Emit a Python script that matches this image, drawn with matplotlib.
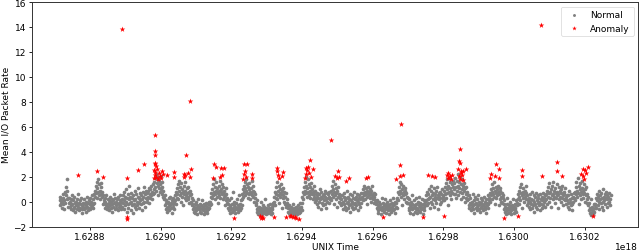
import numpy as np
import matplotlib
matplotlib.use("Agg")
import matplotlib.pyplot as plt

# ---------------- data ----------------
# Time axis: UNIX time in ns; segment edges (units of 1e18 ns)
segment_edges = [1.628714, 1.62874, 1.62881, 1.62884, 1.62889, 1.62896, 1.62898,
                 1.62901, 1.62904, 1.62909, 1.62914, 1.62919, 1.62923, 1.62927,
                 1.62932, 1.62936, 1.62940, 1.62944, 1.62948, 1.62951, 1.62957,
                 1.62961, 1.62967, 1.62970, 1.62975, 1.62980, 1.62983, 1.62987,
                 1.62993, 1.62997, 1.63001, 1.63004, 1.63009, 1.63015, 1.63017,
                 1.63021, 1.63023, 1.630274]

seg01 = [0.1, -0.3, 0.4, -0.1, 0.2, -0.5, 0.0, 0.6, -0.2, 0.3, -0.6, 0.1, 0.8, -0.1, 0.5, 1.2, 1.8, 0.9, 0.2, -0.4, 0.3]
seg02 = [-0.1, 0.3, -0.4, 0.0, -0.6, 0.2, -0.3, 0.5, -0.2, -0.7, 0.1, -0.4, 0.4, -0.5, -0.1, -0.8,
         0.0, -0.3, 0.2, -0.6, -0.2, 0.6, -0.4, -0.1, -0.7, 0.1, -0.5, -0.2, 0.3, -0.6, -0.3, -0.9,
         -0.1, -0.4, 0.2, -0.6, -0.2, -0.5, 0.0, -0.8, -0.3, 0.4, -0.4, -0.1, -0.7, 0.1, -0.5, -0.2,
         0.3, -0.6, -0.3, 0.0, -0.4, 0.5, -0.2, -0.5]
seg03 = [0.2, 0.6, -0.1, 0.9, 0.4, 1.3, 0.7, 1.6, 0.3, 1.1, 0.8, 1.8, 0.5, 1.4, 0.9, 0.2, 1.2, 0.6, 1.5, 0.4, 0.8, -0.2, 0.5, 0.1]
seg04 = [-0.1, 0.3, -0.5, 0.0, -0.3, 0.5, -0.6, -0.2, 0.2, -0.4, 0.1, -0.7, -0.1, 0.4, -0.3, 0.0,
         -0.5, 0.2, -0.2, -0.8, 0.1, -0.4, 0.6, -0.1, -0.6, 0.3, -0.3, 0.0, -0.5, 0.2,
         -0.2, -0.7, 0.4, -0.1, -0.4, 0.1, -0.3, 0.5, -0.6, 0.0]
seg05 = [0.2, -0.4, 0.5, -0.1, 0.8, -0.6, 0.1, 0.4, -0.3, 1.0, 0.0, -0.8, 0.3, -0.2, 0.6, -0.5,
         0.2, 1.3, -0.1, 0.4, -0.7, 0.0, 0.7, -0.3, 0.3, -0.9, 0.5, -0.2, 0.1, 0.9, -0.4, 0.2,
         -0.6, 0.6, 0.0, -0.3, 0.4, 1.1, -0.1, 0.3, -0.5, 0.7, 0.1, -0.2, 0.5, -0.7, 0.2, 0.8,
         -0.1, 0.4, 1.2, 0.0, 0.6, -0.4, 0.3, 0.9]
seg06 = [0.2, 0.7, 0.0, 0.9, 0.4, 1.1, -0.1, 0.6, 0.3, 1.0, 0.5, 1.3, 0.2, 0.8, 1.4, 0.6]
seg07 = [1.0, 1.6, 0.7, 1.9, 1.2, 2.2, 0.9, 1.5, 1.8, 0.5, 1.3, 2.0, 1.1, 1.7, 0.8, 1.4, 2.1, 1.0, 1.6, 0.6, 1.2, 0.9, 0.4, 0.3]
seg08 = [0.2, -0.3, 0.5, -0.6, -0.1, 0.1, -0.5, -0.8, 0.0, -0.4, 0.3, -0.2, -0.7, -0.3, 0.4, -0.5, -0.1, -0.9, 0.1, -0.4, -0.2, 0.3, -0.6, 0.0]
seg09 = [0.1, 0.5, -0.2, 0.8, 0.3, 1.1, 0.6, 1.4, 0.2, 0.9, 1.7, 0.5, 1.2, 0.0, 0.7, 1.5,
         0.4, 1.0, 0.8, -0.3, 0.6, 1.3, 0.3, 0.9, 1.6, 0.5, 0.1, 1.1, 0.7, 0.4,
         1.2, 0.2, 0.8, -0.1, 0.5, 0.9, 0.0, 0.6, 0.3, -0.2]
seg10 = [-0.3, -0.6, 0.1, -0.8, -0.4, -0.2, -0.9, -0.5, 0.0, -0.7, -0.3, -1.0, -0.5, 0.2, -0.6, -0.4,
         -0.8, -0.2, -0.6, -0.9, -0.3, -0.5, 0.1, -0.7, -0.4, -1.0, -0.2, -0.6, -0.8, -0.3,
         -0.5, -0.1, -0.7, -0.4, -0.9, -0.2, -0.6, 0.0, -0.5, -0.3]
seg11 = [0.0, 0.4, -0.2, 0.7, 0.3, 1.0, 0.5, 1.4, 0.8, 1.8, 0.6, 1.2, 0.2, 0.9, 1.6, 0.4,
         1.1, 0.7, -0.1, 1.3, 0.5, 0.9, 1.7, 0.3, 0.8, 1.0, 0.6, 1.4, 0.2, 0.7,
         1.2, 0.4, 0.9, -0.3, 0.5, 1.1, 0.1, 0.6, -0.1, 0.3]
seg12 = [-0.2, -0.5, 0.1, -0.7, -0.3, -0.9, -0.4, 0.3, -0.6, -0.2, -0.8, -0.5, 0.8, -0.3, -0.7, 0.0,
         -0.4, -0.9, -0.6, -0.1, -0.5, 0.2, -0.8, -0.3, -0.6, -0.4, 0.5, -0.7, -0.2, -0.5, 0.1, -0.3]
seg13 = [0.2, 0.6, 1.0, 0.4, 1.3, 0.8, 1.6, 0.5, 1.1, 0.9, 1.8, 0.7, 1.4, 0.3, 1.2, 1.0,
         0.6, 1.5, 0.8, 0.2, 1.1, 0.7, 1.7, 0.5, 0.9, 1.3, 0.4, 0.8, 0.0, 0.6, 0.3, -0.1]
seg14 = [-0.3, -0.6, 0.1, -0.8, -0.5, -1.0, -0.7, -0.4, -0.9, -0.6, 0.0, -0.8, -0.5, -0.7, -1.0, -0.3,
         -0.6, -0.9, -0.4, -0.8, 0.2, -0.7, -0.5, -1.0, -0.6, -0.8, -0.3, -0.9, -0.7, -0.5,
         -0.8, -0.2, -0.6, -1.0, -0.7, -0.4, -0.9, -0.6, -0.3, -0.1]
seg15 = [0.0, 0.4, -0.3, 0.8, 0.3, 1.2, 0.6, 1.6, 0.2, 0.9, 0.5, 1.3, -0.1, 0.7, 1.0, 0.4,
         1.4, 0.6, -0.5, 0.9, 0.3, 1.1, 0.5, 0.0, 0.8, -0.2, 0.4, 0.7, -0.4, 0.2, -0.1, -0.3]
seg16 = [-0.5, -0.8, -0.3, -0.9, -0.6, -1.0, -0.7, -0.4, -0.8, -0.6, -0.9, -0.2, -0.7, -1.0, -0.5, -0.8,
         -0.6, -0.9, -0.4, -0.7, -1.0, -0.6, -0.8, -0.3, -0.7, -0.9, -0.5, -0.8, -0.1, -0.6, -0.4, -0.7]
seg17 = [-0.1, 0.4, 0.8, 0.2, 1.2, 0.6, 1.6, 0.9, 2.0, 0.7, 1.3, 0.4, 1.1, 1.8, 0.8, 0.5,
         1.4, 0.9, 0.3, 1.2, 0.7, 1.5, 0.6, 1.0, 0.2, 0.8, 1.3, 0.4, 0.6, 0.0, 0.9, 0.3]
seg18 = [0.1, 0.5, -0.2, 0.7, 0.3, -0.4, 0.6, 0.0, 1.0, 0.2, -0.6, 0.4, 0.8, -0.1, 0.3, 0.5,
         -0.3, 0.6, 0.1, 0.9, -0.2, 0.4, 0.2, -0.5, 0.7, 0.0, 0.3, 0.6, -0.1, 0.4, 0.8, 0.2]
seg19 = [0.3, 0.9, 0.1, 1.3, 0.6, 1.7, 0.4, 1.0, -0.2, 0.8, 1.4, 0.5, 0.2, 1.1, 0.7, -0.4, 0.9, 0.4, 1.2, 0.0, 0.6, 0.3, -0.1, 0.5]
seg20 = [0.2, -0.3, 0.5, -0.1, 0.0, -0.6, 0.4, -0.2, 0.7, -0.4, 0.1, -0.7, 0.3, -0.1, 0.9, -0.5,
         0.0, 0.4, -0.3, 0.2, -0.8, 0.6, -0.2, 0.1, -0.4, 0.5, 0.0, -0.6, 0.3, -0.2, 0.8, -0.1,
         0.2, -0.5, 0.4, -0.3, 0.1, 0.6, -0.7, 0.0, 0.3, -0.2, 0.5, -0.4, 0.2, 0.7, -0.1, 0.4]
seg21 = [0.3, 0.7, 0.1, 1.0, 0.5, 1.3, 0.8, 0.2, 0.6, 1.1, 0.4, 0.9, -0.2, 0.7, 1.2, 0.5,
         0.8, 0.3, 1.0, 0.6, 0.0, 0.9, 0.4, 1.3, 0.5, 0.2, 0.7, -0.1, 0.4, 0.1, 0.6, 0.0]
seg22 = [-0.2, -0.5, 0.1, -0.7, -0.3, -0.9, -0.4, 0.0, -0.6, -0.2, -1.0, -0.5, 0.3, -0.4, -0.7, -0.1,
         -0.5, -0.8, -0.3, 0.2, -0.6, -0.4, -0.9, -0.2, -0.5, 0.0, -0.7, -0.3, -1.0, -0.4, 0.1, -0.6,
         -0.2, -0.8, -0.5, -0.1, -0.4, -0.7, 0.3, -0.3, -0.6, -0.2, -0.9, 0.0, -0.4, -0.1, -0.5, 0.2]
seg23 = [0.3, 0.8, 0.1, 1.2, 0.6, 1.6, 0.9, 0.4, 1.4, 0.7, -0.3, 1.0, 0.5, 1.3, 0.8, 0.2, 1.1, 0.6, 0.9, 0.0, 0.7, 0.4, -0.1, 0.3]
seg24 = [-0.1, -0.5, 0.2, -0.7, -0.3, -0.9, 0.0, -0.4, 0.5, -0.6, -0.2, -1.0, -0.5, 0.1, -0.3, -0.8,
         -0.4, 0.3, -0.6, -0.2, -0.9, -0.5, 0.0, -0.7, -0.3, 0.4, -0.4, -0.8, -0.1, -0.6,
         -0.3, 0.2, -0.5, -1.0, -0.2, -0.4, 0.1, -0.7, -0.3, 0.0]
seg25 = [0.1, 0.5, -0.3, 0.8, 0.2, -0.1, 0.6, 1.0, 0.3, -0.5, 0.4, 0.9, 0.0, 1.3, 0.5, -0.2,
         0.7, 0.2, 1.1, -0.4, 0.4, 0.6, 0.1, 0.9, -0.1, 0.3, 1.2, 0.5, -0.6, 0.7,
         0.2, 0.4, 0.8, -0.2, 0.6, 0.0, 1.0, 0.3, 0.5, 0.1]
seg26 = [0.4, 0.9, 0.1, 1.2, 0.6, 1.5, 0.3, 1.0, 1.8, 0.7, -0.3, 1.3, 0.8, 1.9, 0.5, 1.1, 1.6, 0.9, 0.2, 1.4, 0.7, 1.2, 1.7, 0.6]
seg27 = [1.0, 1.5, 0.6, 1.9, 1.2, 0.3, 1.7, 0.9, 2.2, 1.3, 0.5, 1.6, 1.1, 0.8, 2.0, 1.4,
         0.2, 1.0, 1.8, 0.7, 1.3, 0.4, 1.5, 0.9, 1.1, 0.0, 0.6, 1.2, 0.3, 0.8, 0.1, 0.5]
seg28 = [0.2, -0.3, 0.5, -0.5, -0.1, 0.3, -0.7, -0.2, 0.0, -0.4, 0.6, -0.6, -0.3, 0.1, -0.9, -0.2,
         0.4, -0.5, -0.1, -0.7, 0.2, -0.4, -0.3, 0.5, -0.6, 0.0, -0.2, -0.8, 0.3, -0.4, -0.1, -0.5,
         0.1, -0.7, -0.3, 0.4, -0.2, -0.6, 0.0, -0.4, -0.9, 0.2, -0.3, -0.1, 0.5, -0.5, -0.2, 0.1]
seg29 = [0.3, 0.7, 0.0, 1.0, 0.5, 1.4, 0.8, 0.2, 1.1, 0.6, 1.6, 0.4, 0.9, -0.2, 1.2, 0.7,
         0.3, 1.0, 0.5, 1.3, 0.8, -0.3, 0.6, 0.9, 0.2, 1.1, 0.4, 0.0, 0.7, -0.1, 0.3, 0.5]
seg30 = [-0.2, -0.6, 0.1, -0.8, -0.4, -1.0, -0.5, -0.2, -0.7, 0.3, -0.5, -0.9, -0.3, -0.6, 0.0, -0.8,
         -0.4, -0.7, -1.0, -0.3, -0.5, 0.2, -0.6, -0.9, -0.4, -0.2, -0.7, -0.5, 0.1, -0.8, -0.3, -0.1]
seg31 = [0.2, 0.6, -0.2, 0.9, 0.4, 1.2, 0.1, 0.7, 1.4, 0.5, -0.5, 0.8, 0.3, 1.1, 0.6, 0.0, 0.9, 0.4, 1.3, 0.2, 0.7, -0.3, 0.5, 0.1]
seg32 = [-0.1, 0.3, -0.4, 0.6, 0.0, -0.6, 0.2, -0.2, 0.8, -0.5, 0.1, -0.3, 0.5, -0.8, 0.0, 0.4,
         -0.2, 0.7, -0.4, 0.1, -0.6, 0.3, -0.1, 0.5, -0.3, 0.0, 0.6, -0.7, 0.2, -0.2,
         0.4, -0.5, 0.1, 0.7, -0.3, 0.0, 0.3, -0.4, 0.5, 0.1]
seg33 = [0.2, 0.6, -0.2, 0.9, 0.4, 1.2, 0.0, 0.7, 1.5, 0.3, 0.8, -0.4, 1.0, 0.5, 1.3, 0.2,
         0.6, 1.6, 0.4, 0.9, -0.1, 1.1, 0.7, 0.3, 1.4, 0.5, 0.8, -0.5, 0.6, 1.2, 0.2, 0.9,
         0.4, 1.0, 0.0, 0.7, 0.3, 1.3, 0.5, -0.3, 0.8, 0.2, 0.6, 1.1, 0.1, 0.4, -0.2, 0.5]
seg34 = [0.1, -0.4, 0.5, -0.1, 0.9, -0.6, 0.2, 0.0, -0.3, 0.6, -0.7, 0.3, -0.2, 0.4, 0.0, 0.7]
seg35 = [0.3, 0.8, 0.1, 1.2, 0.6, 1.6, 0.9, 0.4, 1.9, 0.7, 1.3, -0.2, 1.0, 0.5, 1.5, 0.8,
         0.2, 1.1, 1.7, 0.6, 0.9, 0.3, 1.4, 0.7, 0.0, 1.0, 0.5, 1.2, 0.2, 0.6, -0.1, 0.4]
seg36 = [-0.3, -0.7, -0.1, -0.9, -0.5, -1.1, -0.6, 0.2, -0.8, -0.4, -1.0, -0.6, -0.2, -0.8, -0.5, -0.3]
seg37 = [-0.2, 0.3, -0.5, 0.1, 0.6, -0.3, 0.4, 0.0, 0.9, -0.6, 0.2, 0.5, -0.1, 0.7, -0.4, 0.3,
         1.0, 0.0, -0.7, 0.4, 0.1, 0.6, -0.2, 0.3, 0.8, -0.4, 0.2, 0.5, -0.1, 0.4, 0.0, 0.7, -0.3, 0.2, 0.5]

normal_segments = [seg01, seg02, seg03, seg04, seg05, seg06, seg07, seg08, seg09, seg10,
                   seg11, seg12, seg13, seg14, seg15, seg16, seg17, seg18, seg19, seg20,
                   seg21, seg22, seg23, seg24, seg25, seg26, seg27, seg28, seg29, seg30,
                   seg31, seg32, seg33, seg34, seg35, seg36, seg37]

# Anomalies: time (units of 1e18 ns) and rate
anomaly_time = [1.628765, 1.628821, 1.628837, 1.628890, 1.628904, 1.628904, 1.628906, 1.628935, 1.628952,
                1.628984, 1.628983, 1.628985, 1.628984, 1.6289835, 1.628980, 1.628985, 1.628990, 1.628994,
                1.628983, 1.628988, 1.628997, 1.629004, 1.629007, 1.628992, 1.628980, 1.629001, 1.628986,
                1.629018, 1.629039, 1.629039,
                1.629065, 1.629070, 1.629076, 1.629082, 1.629072, 1.629086, 1.629067, 1.629084,
                1.629151, 1.629157, 1.629149, 1.629170, 1.629178, 1.629173, 1.629168,
                1.629236, 1.629243, 1.629239, 1.629236, 1.629241, 1.629234, 1.629258, 1.629258,
                1.629208, 1.629281, 1.629285, 1.629288, 1.629290, 1.629320,
                1.629330, 1.629330, 1.629332, 1.629335, 1.629342, 1.629345,
                1.629354, 1.629365, 1.629370, 1.629375, 1.629379, 1.629384, 1.629392,
                1.629422, 1.629410, 1.629414, 1.629418, 1.629420, 1.629412, 1.629424, 1.629409, 1.629431,
                1.629482, 1.629493, 1.629499, 1.629504, 1.629501, 1.629525, 1.629532,
                1.629581, 1.629588, 1.629630,
                1.629680, 1.629676, 1.629667, 1.629678, 1.629685,
                1.629743, 1.629755, 1.629769, 1.629775, 1.629803,
                1.629809, 1.629814, 1.629818, 1.629821, 1.629812, 1.629824,
                1.629846, 1.629844, 1.629846, 1.629842, 1.629849, 1.629852, 1.629844, 1.629848, 1.629855,
                1.629850, 1.629863, 1.629854,
                1.629932, 1.629936, 1.629945, 1.629949, 1.629956, 1.629957,
                1.629972, 1.630010, 1.630023, 1.630023, 1.630076, 1.630078,
                1.630122, 1.630122, 1.630136,
                1.630189, 1.630194, 1.630201, 1.630209, 1.630196, 1.630199, 1.630203,
                1.630223]
anomaly_rate = [2.15, 2.44, 1.99, 13.8, 1.9, -1.26, -1.35, 2.54, 2.99,
                5.37, 4.05, 3.73, 3.12, 3.0, 2.54, 2.4, 2.6, 2.3,
                2.14, 1.98, 2.06, 2.46, 2.2, 1.85, 1.93, 1.87, 2.85,
                2.14, 2.38, 2.0,
                2.24, 2.14, 2.32, 1.98, 3.73, 2.6, 1.98, 8.1,
                3.0, 2.8, 1.93, 2.67, 2.72, 2.14, 1.98,
                3.04, 2.99, 2.46, 2.24, 1.98, 1.8, 2.24, 1.93,
                -1.34, -1.18, -1.31, -1.2, -1.28, -1.2,
                2.72, 2.46, 2.14, 1.87, 2.06, 2.38,
                -1.2, -1.18, -1.12, -1.26, -1.2, -1.34, -1.39,
                3.38, 2.72, 2.51, 2.77, 2.32, 2.19, 1.98, 1.93, 2.6,
                4.97, 2.04, 1.91, 1.99, 2.49, 1.7, 1.91,
                1.91, 1.99, -1.2,
                6.23, 2.92, 1.86, 2.1, 2.17,
                -1.22, 2.12, 2.07, 1.96, -1.14,
                2.17, 2.28, 2.04, 1.86, 1.91, 2.17,
                4.24, 3.24, 3.1, 2.65, 2.49, 2.17, 2.04, 1.86, 1.75,
                2.31, 2.63, 2.44,
                1.91, 2.25, 2.1, 3.05, 2.6, 1.91,
                -1.27, -1.14, 2.52, 2.04, 14.19, 2.1,
                3.16, 2.44, 2.1,
                2.23, 2.63, 2.57, 2.81, 2.04, 1.83, 2.31,
                -1.17]

x_label = "UNIX Time"
y_label = "Mean I/O Packet Rate"
x_scale_label = "1e18"
legend_labels = ["Normal", "Anomaly"]

# ---------------- build arrays ----------------
normal_x = []
normal_y = []
for i, vals in enumerate(normal_segments):
    xs = np.linspace(segment_edges[i], segment_edges[i + 1], len(vals), endpoint=False)
    normal_x.extend(xs * 1e18)
    normal_y.extend(vals)
normal_x = np.array(normal_x)
normal_y = np.array(normal_y)
anom_x = np.array(anomaly_time) * 1e18
anom_y = np.array(anomaly_rate)

# ---------------- plot ----------------
plt.rcParams['font.family'] = ['DejaVu Sans']
FS = 6.5
fig = plt.figure(figsize=(6.4, 2.53), dpi=100)
ax = fig.add_axes([0.05, 0.10, 0.947, 0.888])

ax.scatter(normal_x, normal_y, s=7.0, marker='o', color='gray', linewidths=0,
           label=legend_labels[0], zorder=2)
ax.scatter(anom_x, anom_y, s=18, marker='*', color='red', linewidths=0,
           label=legend_labels[1], zorder=3)

ax.set_ylim(-2, 16)
ax.set_yticks(np.arange(-2, 17, 2))
ax.set_xticks(np.arange(1.6288, 1.63021, 0.0002) * 1e18)
ax.set_xlabel(x_label, fontsize=FS, labelpad=0.5)
ax.set_ylabel(y_label, fontsize=FS, labelpad=2)
ax.tick_params(labelsize=FS, length=2.5, width=0.6, pad=1.5)
# scale factor text, placed level with the x label as in the reference
ax.xaxis.get_offset_text().set_visible(False)
ax.text(1.0, -0.068, x_scale_label, transform=ax.transAxes, ha='right', va='top',
        fontsize=FS)
for sp in ax.spines.values():
    sp.set_linewidth(0.7)
    sp.set_color('#333333')

leg = ax.legend(loc='upper right', fontsize=FS, frameon=True, markerscale=0.8)
leg.get_frame().set_linewidth(0.5)

fig.savefig("out.png", dpi=100)
